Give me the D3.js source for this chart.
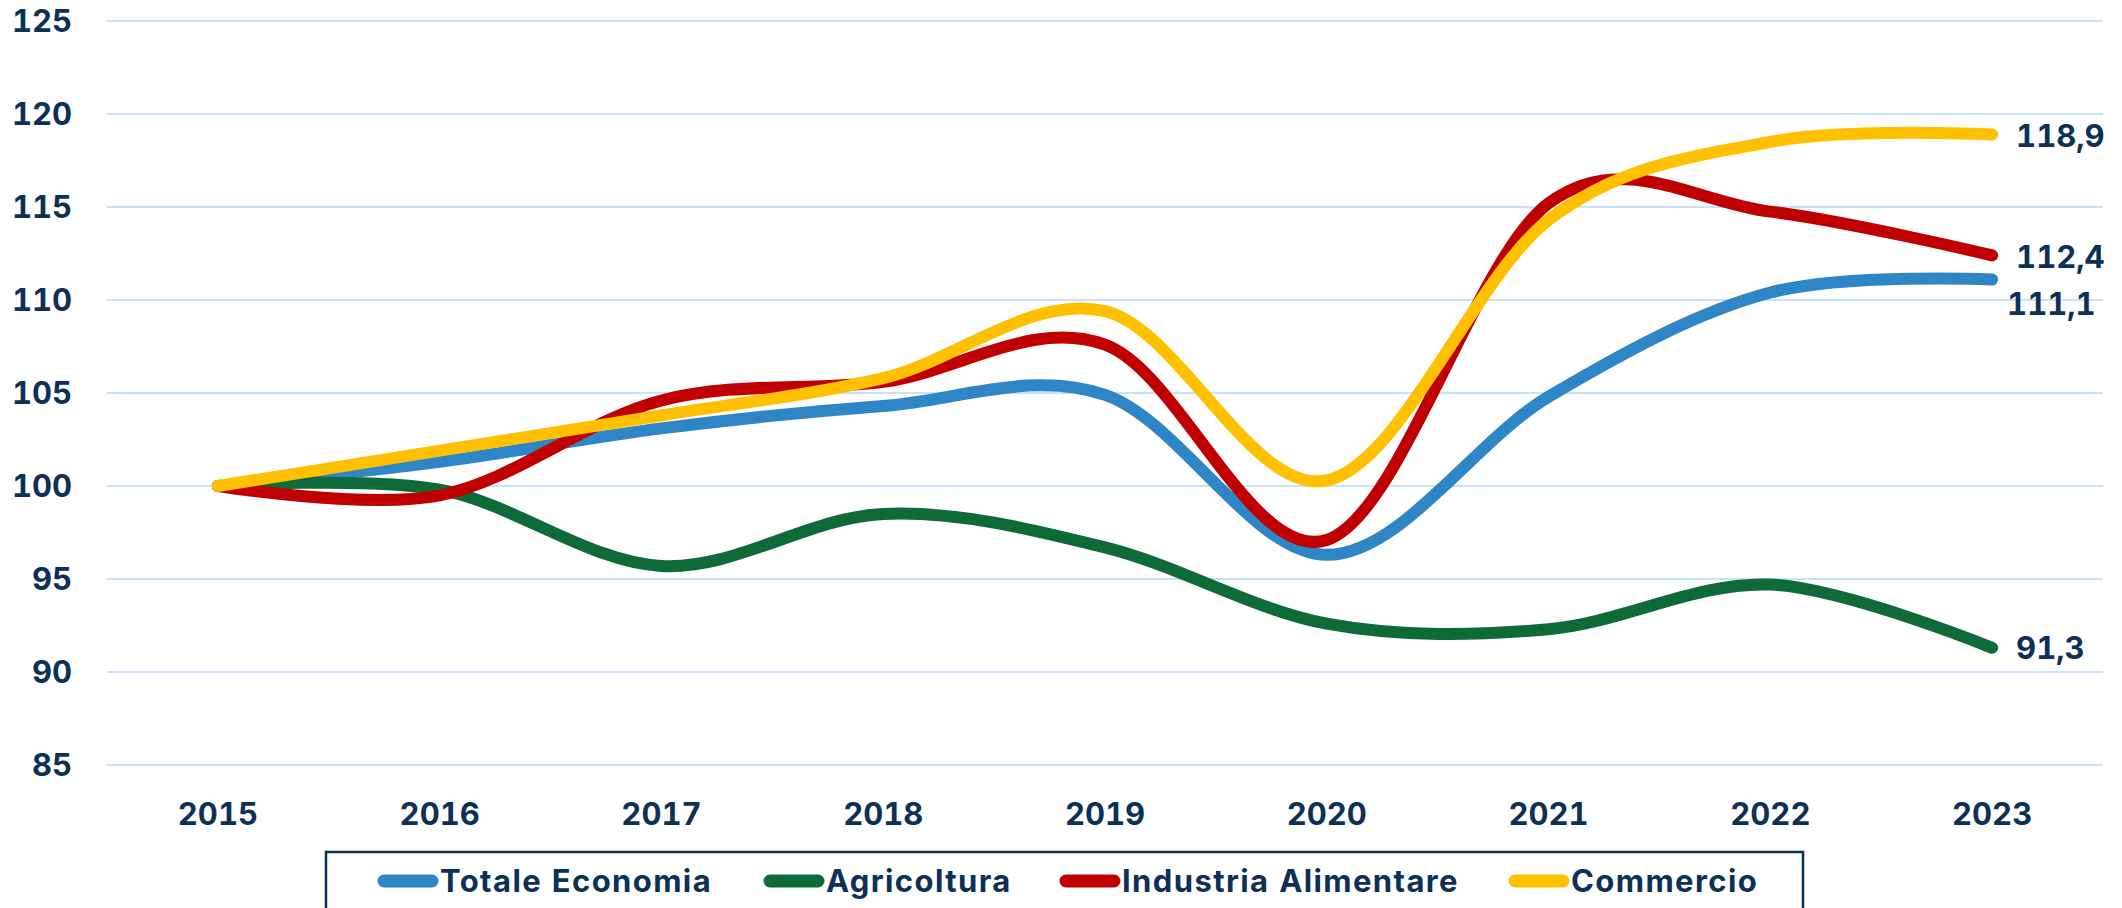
<!DOCTYPE html>
<html>
<head>
<meta charset="utf-8">
<script src="https://cdn.jsdelivr.net/npm/d3@7"></script>
<style>
  html, body { margin: 0; padding: 0; background: #ffffff; overflow: hidden; }
  svg { display: block; }
  text { font-family: Inter, "Open Sans", "DejaVu Sans", sans-serif; font-weight: 700; fill: #0c3056;
         font-variant-numeric: tabular-nums; font-feature-settings: "tnum" 1; }
</style>
</head>
<body>
<svg id="chart" width="2122" height="908"></svg>
<script>
// ---- Data ----
const years = ["2015", "2016", "2017", "2018", "2019", "2020", "2021", "2022", "2023"];
const seriesNames = ["Totale Economia", "Agricoltura", "Industria Alimentare", "Commercio"];
const totaleEconomia      = [100, 101.3, 103.1, 104.3, 104.9, 96.3, 104.8, 110.4, 111.1];
const agricoltura         = [100, 99.8, 95.7, 98.5, 96.7, 92.6, 92.3, 94.7, 91.3];
const industriaAlimentare = [100, 99.5, 104.6, 105.6, 107.6, 97.1, 115.2, 114.75, 112.4];
const commercio           = [100, 101.9, 103.8, 105.8, 109.4, 100.3, 114.3, 118.5, 118.9];
const yTicks = [85, 90, 95, 100, 105, 110, 115, 120, 125];
const endLabels = ["111,1", "91,3", "112,4", "118,9"];
const seriesColors = ["#2e86c6", "#0e6b37", "#c00000", "#ffc000"];

const seriesValues = [totaleEconomia, agricoltura, industriaAlimentare, commercio];

// ---- Layout ----
const svg = d3.select("#chart");
const plotLeft = 107, plotRight = 2103, plotTop = 21, plotBottom = 765;

const x = d3.scaleBand().domain(years).range([plotLeft, plotRight]).padding(0);
const xc = d => x(d) + x.bandwidth() / 2;
const y = d3.scaleLinear().domain([85, 125]).range([plotBottom, plotTop]);

// gridlines
svg.append("g").selectAll("line").data(yTicks).join("line")
  .attr("x1", plotLeft).attr("x2", plotRight)
  .attr("y1", d => y(d)).attr("y2", d => y(d))
  .attr("stroke", "#c6e3fb").attr("stroke-width", 2);

// y axis labels
const yAxis = d3.axisLeft(y).tickValues(yTicks).tickSize(0).tickPadding(0).tickFormat(d3.format("d"));
const yg = svg.append("g").attr("transform", "translate(72,0)").call(yAxis);
yg.select(".domain").remove();
yg.selectAll("text").attr("font-size", 31).attr("font-family", null)
  .attr("font-weight", 700).attr("fill", "#0c3056").attr("dy", "0.35em").attr("text-anchor", "end");

// x axis labels
const xAxis = d3.axisBottom(x).tickSize(0).tickPadding(0);
const xg = svg.append("g").attr("transform", "translate(0,814)").call(xAxis);
xg.select(".domain").remove();
xg.selectAll("text").attr("font-size", 31).attr("font-family", null)
  .attr("font-weight", 700).attr("fill", "#0c3056").attr("dy", "0.35em");
svg.selectAll(".tick text").attr("font-family", null);
svg.selectAll("g").filter(function(){ return this.hasAttribute("font-family"); }).attr("font-family", null).attr("font-size", null);

// lines
const line = d3.line()
  .x((d, i) => xc(years[i]))
  .y(d => y(d))
  .curve(d3.curveCardinal.tension(0));

svg.append("g").selectAll("path").data(seriesValues).join("path")
  .attr("d", d => line(d))
  .attr("fill", "none")
  .attr("stroke", (d, i) => seriesColors[i])
  .attr("stroke-width", 12)
  .attr("stroke-linecap", "round")
  .attr("stroke-linejoin", "round");

// end labels
const last = years[years.length - 1];
const labelOffsets = [{dx: 15, dy: 25}, {dx: 24, dy: 0}, {dx: 24, dy: 2}, {dx: 24, dy: 2}];
svg.append("g").selectAll("text").data(seriesValues).join("text")
  .attr("x", (d, i) => xc(last) + labelOffsets[i].dx)
  .attr("y", (d, i) => y(d[d.length - 1]) + labelOffsets[i].dy)
  .attr("dy", "0.35em")
  .attr("font-size", 31)
  .text((d, i) => endLabels[i]);

// legend
svg.append("rect")
  .attr("x", 326).attr("y", 852).attr("width", 1477).attr("height", 80)
  .attr("fill", "none").attr("stroke", "#0c3056").attr("stroke-width", 2.5);

const legendX = [377, 763, 1059, 1508];
const lg = svg.append("g").selectAll("g").data(seriesNames).join("g")
  .attr("transform", (d, i) => `translate(${legendX[i]},881)`);
lg.append("line")
  .attr("x1", 7).attr("x2", 55).attr("y1", 0).attr("y2", 0)
  .attr("stroke", (d, i) => seriesColors[i])
  .attr("stroke-width", 13).attr("stroke-linecap", "round");
lg.append("text")
  .attr("x", 63).attr("y", 0).attr("dy", "0.35em")
  .attr("font-size", 31)
  .attr("letter-spacing", 1.4)
  .text(d => d);
</script>
</body>
</html>
